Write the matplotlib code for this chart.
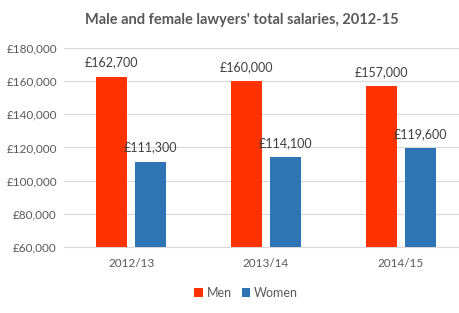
import numpy as np
import matplotlib
matplotlib.use("Agg")
import matplotlib.pyplot as plt

plt.rcParams['font.family'] = ['Lato', 'DejaVu Sans']

years = ["2012/13", "2013/14", "2014/15"]
men = [162700, 160000, 157000]
women = [111300, 114100, 119600]
yticks = [60000, 80000, 100000, 120000, 140000, 160000, 180000]

fig = plt.figure(figsize=(4.6, 3.13), dpi=100)
ax = fig.add_axes([0.139, 0.211, 0.861, 0.636])

x = np.arange(len(years))
w = 0.23
off = 0.145
b1 = ax.bar(x - off, men, w, color="#FF3300", label="Men", zorder=3)
b2 = ax.bar(x + off, women, w, color="#2E75B6", label="Women", zorder=3)

for bars in (b1, b2):
    for b in bars:
        ax.text(b.get_x() + b.get_width() / 2, b.get_height() + 5000,
                "£{:,}".format(int(b.get_height())), ha="center", va="bottom",
                fontsize=9, color="#404040")

ax.set_ylim(60000, 180000)
ax.set_xlim(-0.5, 2.44)
ax.set_yticks(yticks)
ax.set_yticklabels(["£{:,}".format(v) for v in yticks])
ax.set_xticks(x)
ax.set_xticklabels(years)
ax.tick_params(axis="both", length=0, labelsize=8.5, colors="#595959")
ax.tick_params(axis="x", pad=8)
ax.tick_params(axis="y", pad=5)
ax.grid(axis="y", color="#D9D9D9", linewidth=0.8, zorder=0)
for s in ["top", "right", "left"]:
    ax.spines[s].set_visible(False)
ax.spines["bottom"].set_color("#D9D9D9")

fig.text(0.525, 0.935, "Male and female lawyers' total salaries, 2012-15",
         ha="center", va="center", fontsize=10.5, color="#595959", fontweight="bold")

fig.legend(handles=[b1, b2], labels=["Men", "Women"], loc="center",
           bbox_to_anchor=(0.535, 0.065), ncol=2, frameon=False, fontsize=9,
           handlelength=0.7, handleheight=0.7, handletextpad=0.3, columnspacing=0.8,
           labelcolor="#595959")

fig.savefig("out.png", dpi=100)
